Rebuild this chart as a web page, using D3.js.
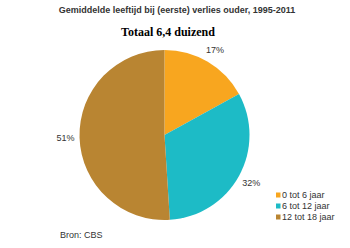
<!DOCTYPE html>
<html>
<head>
<meta charset="utf-8">
<script src="https://cdn.jsdelivr.net/npm/d3@7"></script>
<style>
  body { margin: 0; background: #fff; }
  svg { display: block; }
</style>
</head>
<body>
<svg width="350" height="248"></svg>
<script>
var categories = ["0 tot 6 jaar", "6 tot 12 jaar", "12 tot 18 jaar"];
var shares = [17, 32, 51];
var colors = ["#F8A61F", "#1DBBC6", "#B98532"];

var svg = d3.select("svg");

svg.append("text")
   .attr("x", 177)
   .attr("y", 13)
   .attr("text-anchor", "middle")
   .attr("font-family", "Arial, 'Liberation Sans', sans-serif")
   .attr("font-weight", "bold")
   .attr("font-size", "9px")
   .attr("fill", "#333")
   .text("Gemiddelde leeftijd bij (eerste) verlies ouder, 1995-2011");

svg.append("text")
   .attr("x", 168)
   .attr("y", 36)
   .attr("text-anchor", "middle")
   .attr("font-family", "'Times New Roman', 'Liberation Serif', serif")
   .attr("font-weight", "bold")
   .attr("font-size", "12px")
   .attr("fill", "#000")
   .text("Totaal 6,4 duizend");

var radius = 85;
var g = svg.append("g")
        .attr("transform", "translate(164.5,135)");

var pie = d3.pie().sort(null).value(function(d) { return d; });
var arc = d3.arc().innerRadius(0).outerRadius(radius);
var labelArc = d3.arc().innerRadius(99).outerRadius(99);

var arcs = pie(shares);

g.selectAll(".slice")
 .data(arcs)
 .enter().append("path")
 .attr("class", "slice")
 .attr("d", arc)
 .attr("fill", function(d, i) { return colors[i]; });

g.selectAll(".pct")
 .data(arcs)
 .enter().append("text")
 .attr("class", "pct")
 .attr("transform", function(d) { return "translate(" + labelArc.centroid(d) + ")"; })
 .attr("dy", "0.35em")
 .attr("text-anchor", "middle")
 .attr("font-family", "Arial, 'Liberation Sans', sans-serif")
 .attr("font-size", "9px")
 .attr("fill", "#333")
 .text(function(d) { return d.data + "%"; });

// legend
var legend = svg.append("g").attr("transform", "translate(276,195)");
var item = legend.selectAll(".item")
   .data(categories)
   .enter().append("g")
   .attr("class", "item")
   .attr("transform", function(d, i) { return "translate(0," + (i * 11) + ")"; });

item.append("rect")
    .attr("x", 0)
    .attr("y", -2.5)
    .attr("width", 4.5)
    .attr("height", 5)
    .attr("fill", function(d, i) { return colors[i]; });

item.append("text")
    .attr("x", 6)
    .attr("y", 0)
    .attr("dy", "0.35em")
    .attr("font-family", "Arial, 'Liberation Sans', sans-serif")
    .attr("font-size", "9px")
    .attr("fill", "#333")
    .text(function(d) { return d; });

svg.append("text")
   .attr("x", 60)
   .attr("y", 238)
   .attr("font-family", "Arial, 'Liberation Sans', sans-serif")
   .attr("font-size", "9px")
   .attr("fill", "#333")
   .text("Bron: CBS");
</script>
</body>
</html>
